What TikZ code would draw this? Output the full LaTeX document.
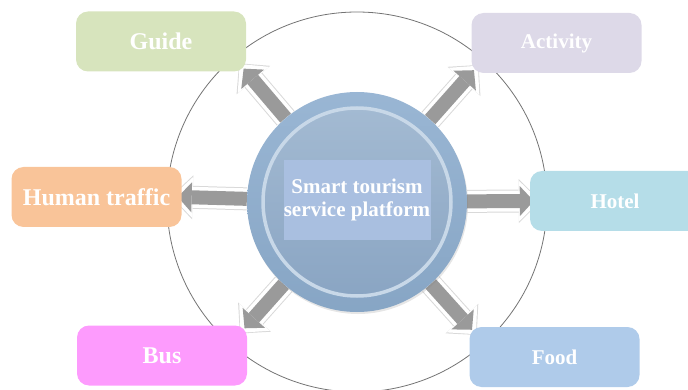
\documentclass[tikz,border=0pt]{standalone}
\usepackage{fontspec}
\setmainfont{Liberation Serif}
\usetikzlibrary{arrows.meta, backgrounds, shadows}

\definecolor{guiaverde}{HTML}{D7E4BD}
\definecolor{actlila}{HTML}{DDD9E8}
\definecolor{flujonaranja}{HTML}{F9C499}
\definecolor{hotelceleste}{HTML}{B5DDE8}
\definecolor{busrosa}{HTML}{FD9BFD}
\definecolor{comidaazul}{HTML}{AFCBEA}
\definecolor{anilloazul}{HTML}{8EAECF}
\definecolor{discoarriba}{HTML}{A3BAD2}
\definecolor{discoabajo}{HTML}{8AA5C3}
\definecolor{bordeclaro}{HTML}{C8D8E8}
\definecolor{rotuloazul}{HTML}{A9BFE0}
\definecolor{flechagris}{HTML}{9A9A9A}

\begin{document}
\begin{tikzpicture}[x=1pt, y=1pt,
        % Estilo para las cajas de servicios
        caja/.style={
            rectangle,
            rounded corners=12pt,
            minimum width=170pt,
            minimum height=60pt,
            inner sep=0pt,
            text=white,
            font=\bfseries\fontsize{24}{28}\selectfont
        },
        % Cajas con letra algo menor
        cajachica/.style={
            caja,
            font=\bfseries\fontsize{21}{25}\selectfont
        },
        % Estilo para las flechas gruesas con borde blanco
        flecha/.style={
            draw=flechagris,
            line width=14pt,
            -{Triangle[length=14pt, width=30pt, line width=0pt]},
            shorten >=-4pt,
            preaction={draw=black!15, line width=23pt, shorten >=-11pt,
                -{Triangle[length=22pt, width=44pt, line width=0pt]}},
            preaction={draw=white, line width=21pt, shorten >=-10pt,
                -{Triangle[length=21pt, width=41pt, line width=0pt]}}
        }
    ]
    \clip (0,0) rectangle (688,-390);

    % Nodo central
    \node[circle, minimum size=220pt, inner sep=0pt,
          top color=anilloazul!90!white, bottom color=anilloazul!95!black,
          drop shadow={shadow xshift=1pt, shadow yshift=-2pt, opacity=0.2}] (hub) at (357,-202) {};
    \fill[top color=discoarriba, bottom color=discoabajo, draw=bordeclaro, line width=3.5pt]
        (hub.center) circle (94);
    \node[fill=rotuloazul, minimum width=147pt, minimum height=80pt, inner sep=0pt,
          text=white, align=center, font=\bfseries\fontsize{21}{23}\selectfont]
        (titulo) at (357,-200) {Smart tourism\\service platform};

    % Cajas alrededor
    \node[caja, fill=guiaverde] (guide) at (161,-41.5) {Guide};
    \node[cajachica, fill=actlila] (activity) at (556.5,-43) {Activity};
    \node[caja, fill=flujonaranja] (human) at (96.5,-197) {Human traffic};
    \node[cajachica, fill=hotelceleste] (hotel) at (615,-201) {Hotel};
    \node[caja, fill=busrosa] (bus) at (162,-355.5) {Bus};
    \node[cajachica, fill=comidaazul] (food) at (554.5,-357) {Food};

    % --- FONDO: circulo y flechas ---
    \begin{scope}[on background layer]
        \draw[black!55, line width=0.8pt] (hub.center) circle (190);

        \draw[flecha] (hub) -- (guide.south east);
        \draw[flecha] (hub) -- (activity.south west);
        \draw[flecha] (hub) -- (human.east);
        \draw[flecha] (hub) -- (hotel.west);
        \draw[flecha] (hub) -- (bus.north east);
        \draw[flecha] (hub) -- (food.north west);
    \end{scope}

\end{tikzpicture}
\end{document}
